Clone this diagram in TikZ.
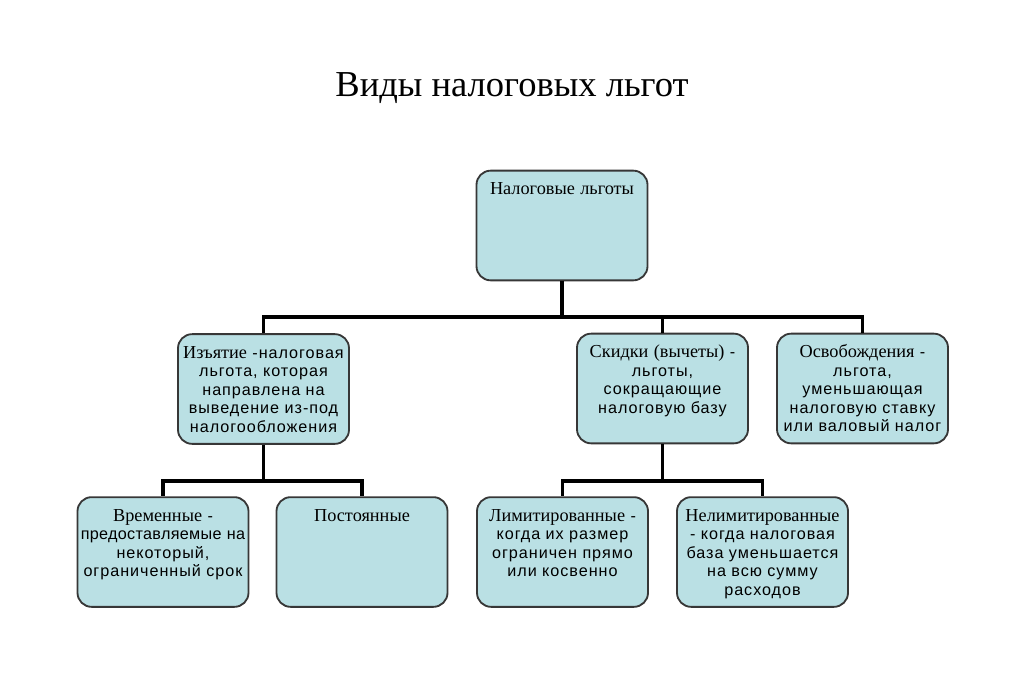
\documentclass[tikz,border=0pt]{standalone}
\usepackage{fontspec}
\setmainfont{Liberation Sans}[LetterSpace=6]
\newfontfamily\serifrm{Liberation Serif}[Scale=1.13]
\usepackage{tikz}
\usetikzlibrary{positioning, calc}
\definecolor{boxfill}{RGB}{186,224,228}
\definecolor{boxedge}{RGB}{55,55,55}

\begin{document}
\begin{tikzpicture}[x=0.025cm, y=-0.025cm,
    box/.style={rectangle, rounded corners=10pt, draw=boxedge, line width=1.3pt, fill=boxfill,
        text width=121pt, align=center, inner xsep=0.3pt, inner ysep=7pt,
        text height=10pt, text depth=54pt, font=\fontsize{11.5}{13.2}\selectfont},
    link/.style={line width=2.6pt, draw=black}
]
    \useasboundingbox (0,0) rectangle (1024,683);
    \node[font=\serifrm\fontsize{23}{28}\selectfont] (title) at (512,88) {Виды налоговых льгот};

    \node[box] (root) at (562,225.5) {{\serifrm Налоговые льготы}};
    \node[box] (izjat) at (263.5,389) {{\serifrm Изъятие} -налоговая\\ льгота, которая\\ направлена на\\ выведение из-под\\ налогообложения};
    \node[box] (skidki) at (662.5,388.5) {{\serifrm Скидки (вычеты)} -\\ льготы,\\ сокращающие\\ налоговую базу};
    \node[box] (osvob) at (862.5,388.5) {{\serifrm Освобождения} -\\ льгота,\\ уменьшающая\\ налоговую ставку\\ или валовый налог};
    \node[box] (vrem) at (163,552) {{\serifrm Временные} -\\ \makebox[\linewidth]{\addfontfeature{LetterSpace=2}предоставляемые на}\\ некоторый,\\ ограниченный срок};
    \node[box] (post) at (362,552) {{\serifrm Постоянные}};
    \node[box] (limit) at (562.5,552) {{\serifrm Лимитированные} -\\ когда их размер\\ ограничен прямо\\ или косвенно};
    \node[box] (nelimit) at (762.5,552) {{\serifrm Нелимитированные}\\ - когда налоговая\\ база уменьшается\\ на всю сумму\\ расходов};

    \coordinate (bus1) at (root.south |- 0,317);
    \coordinate (bus2) at (izjat.south |- 0,481);
    \coordinate (bus3) at (skidki.south |- 0,481);

    \draw[link] (root.south) -- (bus1);
    \draw[link] (bus1) -| (izjat.north);
    \draw[link] (bus1) -| (skidki.north);
    \draw[link] (bus1) -| (osvob.north);

    \draw[link] (izjat.south) -- (bus2);
    \draw[link] (bus2) -| (vrem.north);
    \draw[link] (bus2) -| (post.north);

    \draw[link] (skidki.south) -- (bus3);
    \draw[link] (bus3) -| (limit.north);
    \draw[link] (bus3) -| (nelimit.north);
\end{tikzpicture}
\end{document}
